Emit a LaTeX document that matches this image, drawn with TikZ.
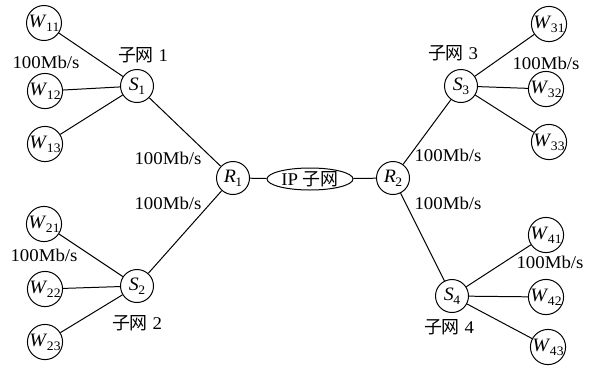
\documentclass[tikz,border=0pt]{standalone}
\usepackage{fontspec}
\setmainfont{Liberation Serif}[FakeStretch=1.05]
\newfontfamily\cjk{Noto Sans CJK SC}
\usetikzlibrary{shapes.geometric}
\newcommand\lab[2]{\textit{#1}\kern-0.5pt\raisebox{-0.45ex}{\fontsize{13}{14}\selectfont #2}}
\tikzset{
  wnode/.style={circle,draw,line width=1pt,minimum size=35bp,inner sep=0pt,font=\fontsize{19}{20}\selectfont},
  snode/.style={circle,draw,line width=1pt,minimum size=33bp,inner sep=0pt,font=\fontsize{19}{20}\selectfont},
  lbl/.style={inner sep=0pt,font=\fontsize{18}{20}\selectfont},
  ln/.style={line width=1pt}
}
\begin{document}
\begin{tikzpicture}[x=1bp,y=-1bp]
\useasboundingbox (0,0) rectangle (592,365);
% subnet 1
\node[wnode] (W11) at (44,23) {\lab{W}{11}};
\node[wnode] (W12) at (45,91) {\lab{W}{12}};
\node[wnode] (W13) at (45,144) {\lab{W}{13}};
\node[snode] (S1) at (137,86) {\lab{S}{1}};
% subnet 2
\node[wnode] (W21) at (44,224) {\lab{W}{21}};
\node[wnode] (W22) at (45,289) {\lab{W}{22}};
\node[wnode] (W23) at (45,342) {\lab{W}{23}};
\node[snode] (S2) at (137,286) {\lab{S}{2}};
% core
\node[snode] (R1) at (233,178) {\lab{R}{1}};
\node[ellipse,draw,line width=1pt,minimum width=86bp,minimum height=22bp,inner sep=0pt,font=\fontsize{18}{20}\selectfont] (IP) at (310,179) {IP {\cjk 子网}};
\node[snode] (R2) at (393,178) {\lab{R}{2}};
% subnet 3
\node[snode] (S3) at (461,86) {\lab{S}{3}};
\node[wnode] (W31) at (549,24) {\lab{W}{31}};
\node[wnode] (W32) at (546,89) {\lab{W}{32}};
\node[wnode] (W33) at (549,142) {\lab{W}{33}};
% subnet 4
\node[snode] (S4) at (452,296) {\lab{S}{4}};
\node[wnode] (W41) at (546,235) {\lab{W}{41}};
\node[wnode] (W42) at (546,297) {\lab{W}{42}};
\node[wnode] (W43) at (548,347) {\lab{W}{43}};
% connectors
\draw[ln] (W11) -- (S1);
\draw[ln] (W12) -- (S1);
\draw[ln] (W13) -- (S1);
\draw[ln] (W21) -- (S2);
\draw[ln] (W22) -- (S2);
\draw[ln] (W23) -- (S2);
\draw[ln] (S1) -- (R1);
\draw[ln] (S2) -- (R1);
\draw[ln] (R1) -- (IP);
\draw[ln] (IP) -- (R2);
\draw[ln] (R2) -- (S3);
\draw[ln] (R2) -- (S4);
\draw[ln] (S3) -- (W31);
\draw[ln] (S3) -- (W32);
\draw[ln] (S3) -- (W33);
\draw[ln] (S4) -- (W41);
\draw[ln] (S4) -- (W42);
\draw[ln] (S4) -- (W43);
% labels
\node[lbl] (t1) at (143,55) {{\cjk 子网} 1};
\node[lbl] (t2) at (137,323) {{\cjk 子网} 2};
\node[lbl] (t3) at (453,53) {{\cjk 子网} 3};
\node[lbl] (t4) at (449,327) {{\cjk 子网} 4};
\node[lbl] (b1) at (46,62) {100Mb/s};
\node[lbl] (b2) at (44,255) {100Mb/s};
\node[lbl] (b3) at (168,158) {100Mb/s};
\node[lbl] (b4) at (168,203) {100Mb/s};
\node[lbl] (b5) at (448,155) {100Mb/s};
\node[lbl] (b6) at (448,203) {100Mb/s};
\node[lbl] (b7) at (546,63) {100Mb/s};
\node[lbl] (b8) at (550,262) {100Mb/s};
\end{tikzpicture}
\end{document}
